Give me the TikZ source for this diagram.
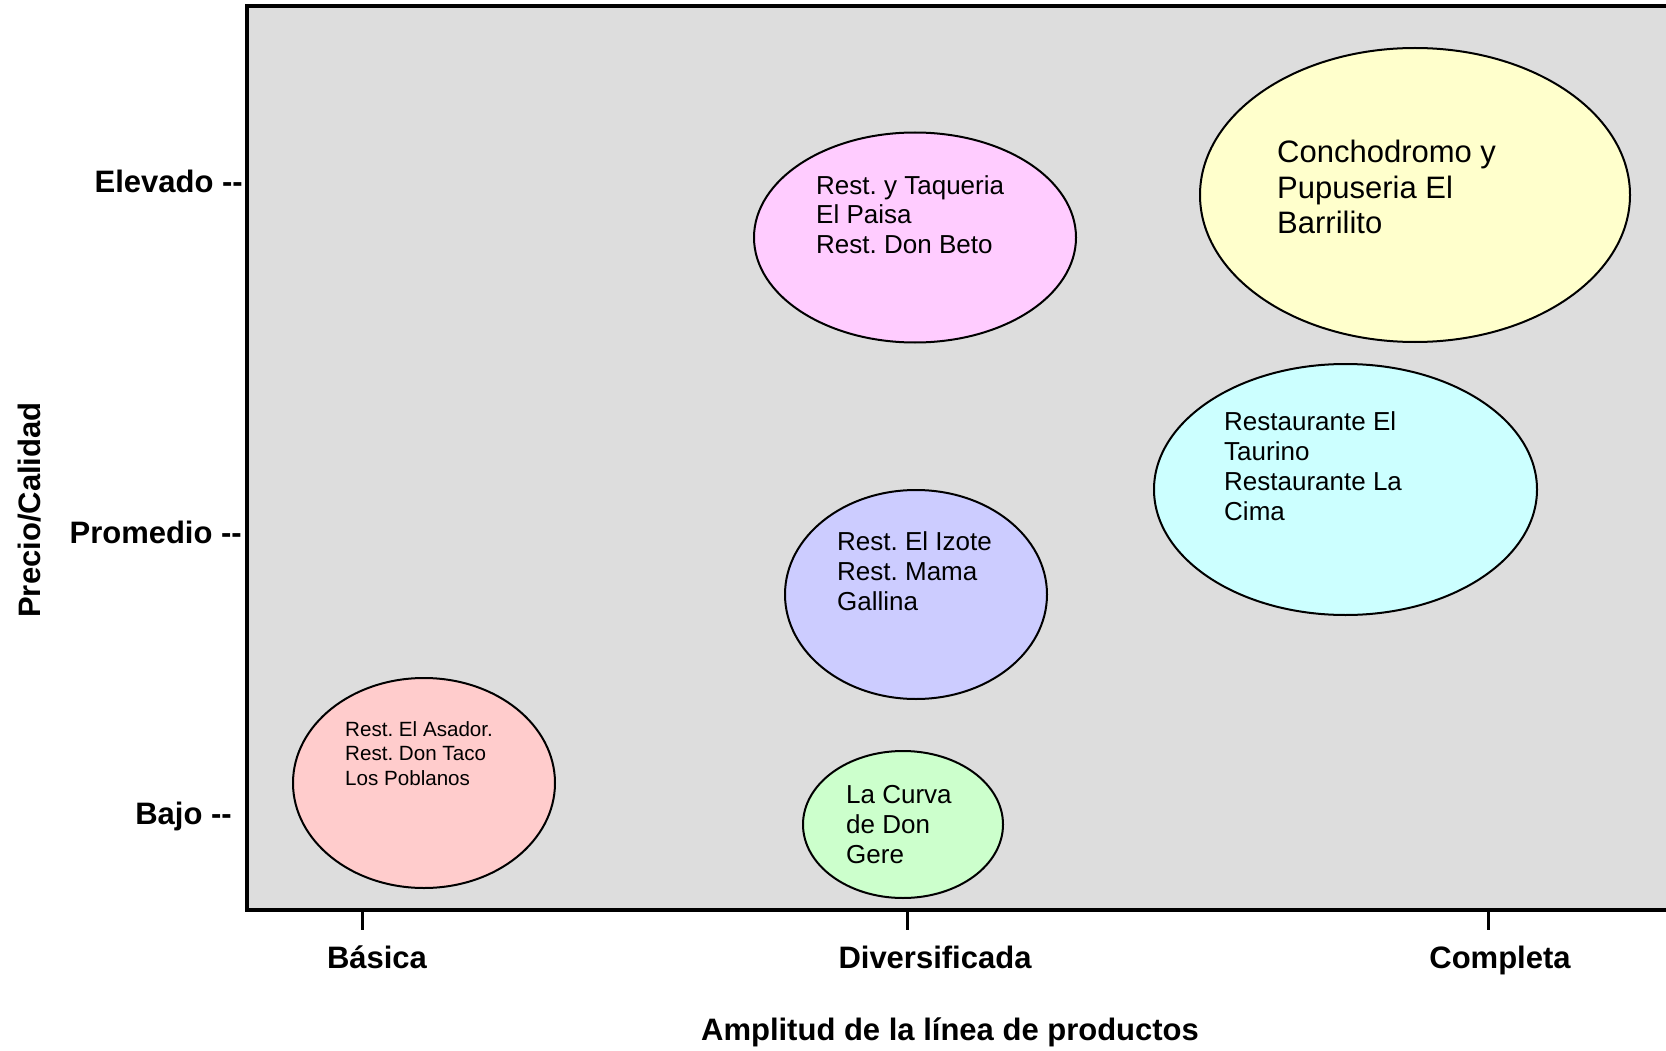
\documentclass[tikz,border=0pt]{standalone}
\usepackage{fontspec}
\setmainfont{Liberation Sans}
\usetikzlibrary{shapes.geometric}
\definecolor{plotgray}{HTML}{DDDDDD}
\definecolor{fillpink}{HTML}{FFCCFF}
\definecolor{fillyellow}{HTML}{FFFFCC}
\definecolor{fillcyan}{HTML}{CCFFFF}
\definecolor{fillblue}{HTML}{CCCCFF}
\definecolor{fillgreen}{HTML}{CCFFCC}
\definecolor{fillrose}{HTML}{FFCCCC}
\frenchspacing
\begin{document}
\begin{tikzpicture}[x=1pt,y=-1pt,
  bubble/.style={ellipse, draw=black, line width=2pt, inner sep=0pt},
  % anchored at the baseline of the last line
  bubbletext/.style={anchor=base west, align=left, inner sep=0pt,
    font=\fontsize{26}{29.7}\selectfont},
  axislabel/.style={inner sep=0pt, font=\fontsize{31}{36}\selectfont\bfseries},
  tick/.style={line width=3pt},
]
\useasboundingbox (0,0) rectangle (1666,1051);

% plotting area (open to the right)
\begin{scope}
  \clip (0,0) rectangle (1666,1051);
  \draw[fill=plotgray, line width=4pt] (247,6) rectangle (1720,909.5);
\end{scope}

% x-axis ticks
\coordinate (tb1) at (362,911);  \coordinate (tb2) at (362,930);
\coordinate (td1) at (907,911);  \coordinate (td2) at (907,930);
\coordinate (tc1) at (1488,911); \coordinate (tc2) at (1488,930);
\draw[tick] (tb1) -- (tb2);
\draw[tick] (td1) -- (td2);
\draw[tick] (tc1) -- (tc2);

% bubbles
\node[bubble, fill=fillpink,   minimum width=322, minimum height=210] (elpaisa) at (915,237.5) {};
\node[bubble, fill=fillyellow, minimum width=430, minimum height=294] (barrilito) at (1415,195) {};
\node[bubble, fill=fillcyan,   minimum width=383, minimum height=251] (taurino) at (1345.5,489.5) {};
\node[bubble, fill=fillblue,   minimum width=262, minimum height=209] (izote) at (916,594.5) {};
\node[bubble, fill=fillrose,   minimum width=262, minimum height=210] (asador) at (424,783) {};
\node[bubble, fill=fillgreen,  minimum width=200, minimum height=147] (curva) at (903,824.5) {};

% bubble texts
\node[bubbletext] (telpaisa) at (816,253.5) {Rest. y Taqueria\\El Paisa\\Rest. Don Beto};
\node[bubbletext, font=\fontsize{31}{35.5}\selectfont] (tbarrilito) at (1277,234) {Conchodromo y\\Pupuseria El\\Barrilito};
\node[bubbletext] (ttaurino) at (1224,520) {Restaurante El\\Taurino\\Restaurante La\\Cima};
\node[bubbletext] (tizote) at (837,610) {Rest. El Izote\\Rest. Mama\\Gallina};
\node[bubbletext, font=\fontsize{20.6}{24.5}\selectfont] (tasador) at (345,785) {Rest. El Asador.\\Rest. Don Taco\\Los Poblanos};
\node[bubbletext] (tcurva) at (846,863) {La Curva\\de Don\\Gere};

% y-axis labels
\node[axislabel, anchor=base east] (elevado) at (243,193) {Elevado -{}-};
\node[axislabel, anchor=base east] (promedio) at (242,543) {Promedio -{}-};
\node[axislabel, anchor=base east] (bajo) at (232,824) {Bajo -{}-};
\node[axislabel, rotate=90] (ytitle) at (30,510) {Precio/Calidad};

% x-axis labels
\node[axislabel, anchor=base] (basica) at (377,968) {Básica};
\node[axislabel, anchor=base] (diversificada) at (935,968) {Diversificada};
\node[axislabel, anchor=base] (completa) at (1500,968) {Completa};
\node[axislabel, anchor=base] (xtitle) at (950,1040) {Amplitud de la línea de productos};
\end{tikzpicture}
\end{document}
